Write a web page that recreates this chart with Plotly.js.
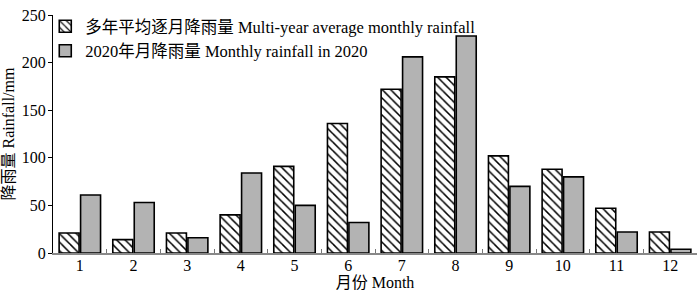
<!DOCTYPE html>
<html>
<head>
<meta charset="utf-8">
<script src="https://cdn.plot.ly/plotly-3.0.1.min.js"></script>
<style>html,body{margin:0;padding:0;background:#fff;}#chart{width:700px;height:296px;}</style>
</head>
<body>
<div id="chart"></div>
<script>
const months = ['1','2','3','4','5','6','7','8','9','10','11','12'];
const avgRainfall = [21, 14, 21, 40, 91, 136, 172, 185, 102, 88, 47, 22];
const rainfall2020 = [61, 53, 16, 84, 50, 32, 206, 228, 70, 80, 22, 4];
const avgName = '多年平均逐月降雨量 Multi-year average monthly rainfall';
const name2020 = '2020年月降雨量 Monthly rainfall in 2020';

const FONT = '"Liberation Serif", "Times New Roman", "Noto Sans CJK SC", serif';

const traces = [
  {
    type: 'bar', x: months, y: avgRainfall, name: avgName,
    marker: {
      color: '#ffffff',
      line: {color: '#000000', width: 1.6},
      pattern: {shape: '\\', fgcolor: '#000000', bgcolor: '#ffffff', size: 6, solidity: 0.25}
    }
  },
  {
    type: 'bar', x: months, y: rainfall2020, name: name2020,
    marker: {color: '#b3b3b3', line: {color: '#000000', width: 1.6}}
  }
];

const layout = {
  width: 700, height: 296,
  margin: {l: 53, r: 3, t: 15, b: 43},
  paper_bgcolor: '#ffffff', plot_bgcolor: '#ffffff',
  font: {family: FONT, color: '#000000', size: 16},
  barmode: 'group', bargap: 0.2, bargroupgap: 0.07,
  showlegend: true,
  legend: {
    x: -0.012, y: 1.025, xanchor: 'left', yanchor: 'top',
    bgcolor: 'rgba(0,0,0,0)', font: {family: FONT, size: 16.5},
    itemwidth: 30, tracegroupgap: 0
  },
  xaxis: {
    type: 'category', tickson: 'boundaries', ticks: 'inside', ticklen: 4,
    tickcolor: '#777777', tickwidth: 1,
    showline: true, linecolor: '#888888', linewidth: 1.5,
    showgrid: false, zeroline: false,
    ticklabelstandoff: -3,
    tickfont: {family: FONT, size: 16},
    title: {text: '月份 Month', font: {family: FONT, size: 16}, standoff: 2}
  },
  yaxis: {
    range: [0, 250], tickvals: [0, 50, 100, 150, 200, 250],
    ticks: 'outside', ticklen: 4, tickcolor: '#000000',
    showline: true, linecolor: '#000000', linewidth: 1,
    showgrid: false, zeroline: false,
    ticklabelstandoff: -1,
    tickfont: {family: FONT, size: 16},
    title: {text: '降雨量 Rainfall/mm', font: {family: FONT, size: 16}, standoff: 6}
  }
};

Plotly.newPlot('chart', traces, layout, {displayModeBar: false, staticPlot: true});
</script>
</body>
</html>
